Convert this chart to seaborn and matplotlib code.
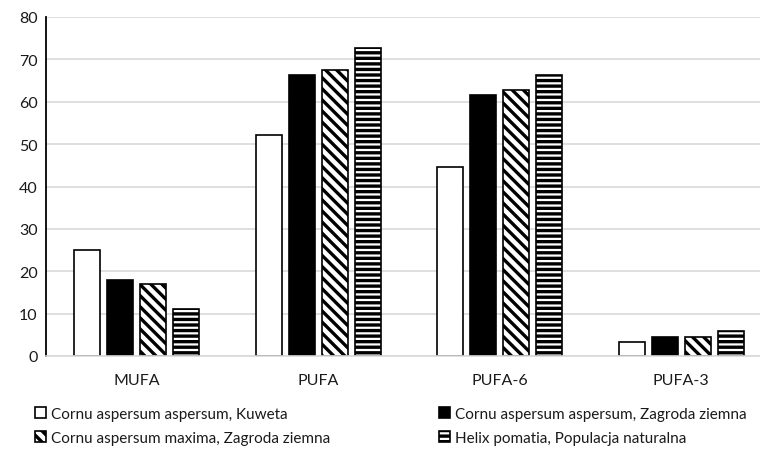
import matplotlib
matplotlib.use("Agg")
import matplotlib.pyplot as plt
import seaborn as sns
import pandas as pd

# Fatty acid groups and the four snail populations
categories = ["MUFA", "PUFA", "PUFA-6", "PUFA-3"]
series_names = [
    "Cornu aspersum aspersum, Kuweta",
    "Cornu aspersum aspersum, Zagroda ziemna",
    "Cornu aspersum maxima, Zagroda ziemna",
    "Helix pomatia, Populacja naturalna",
]
kuweta = [25.1, 52.1, 44.5, 3.2]
zagroda = [18.0, 66.3, 61.6, 4.6]
maxima = [17.1, 67.5, 62.7, 4.4]
helix = [11.1, 72.6, 66.2, 5.9]
y_ticks = [0, 10, 20, 30, 40, 50, 60, 70, 80]

values = [kuweta, zagroda, maxima, helix]
df = pd.DataFrame(
    [(c, s, v) for s, vals in zip(series_names, values) for c, v in zip(categories, vals)],
    columns=["grupa", "populacja", "wartosc"],
)

sns.set_theme(style="white")
plt.rcParams["font.family"] = ["Lato", "DejaVu Sans"]
plt.rcParams["hatch.linewidth"] = 2.4

fig = plt.figure(figsize=(7.6, 4.52), dpi=100)
ax = fig.add_axes([46 / 760, 95 / 452, 726 / 760, 339 / 452])

fills = ["white", "black", "white", "white"]
hatches = [None, None, "\\\\\\", "---"]

sns.barplot(
    data=df, x="grupa", y="wartosc", hue="populacja",
    order=categories, hue_order=series_names,
    palette=fills, saturation=1, width=0.727, gap=0.2,
    edgecolor="black", linewidth=1.2, legend=True, ax=ax,
)

for cont, h in zip(ax.containers, hatches):
    for bar in cont:
        bar.set_hatch(h)
        bar.set_edgecolor("black")

ax.set_ylim(0, 80)
ax.set_xlim(-0.5, 3.5)
ax.set_yticks(y_ticks)
ax.set_xlabel("")
ax.set_ylabel("")
ax.yaxis.grid(True, color="#d9d9d9", linewidth=1.2)
ax.set_axisbelow(True)
for s in ["top", "right"]:
    ax.spines[s].set_visible(False)
ax.spines["left"].set_color("black")
ax.spines["left"].set_linewidth(1.3)
ax.spines["bottom"].set_color("#d9d9d9")
ax.spines["bottom"].set_linewidth(1.2)
ax.tick_params(axis="both", length=0, labelsize=11.5, colors="#1a1a1a")
ax.tick_params(axis="x", pad=12)
ax.tick_params(axis="y", pad=6)

handles, labels = ax.get_legend_handles_labels()
ax.get_legend().remove()
for h, hat in zip(handles, hatches):
    h.set_hatch(hat)
    h.set_edgecolor("black")

common = dict(frameon=False, fontsize=11, handlelength=0.75, handleheight=0.75,
              handletextpad=0.3, labelspacing=0.65, borderaxespad=0, borderpad=0,
              labelcolor="#1a1a1a")
fig.legend([handles[0], handles[2]], [labels[0], labels[2]],
           loc="upper left", bbox_to_anchor=(35 / 760, 1 - 408 / 452), **common)
fig.legend([handles[1], handles[3]], [labels[1], labels[3]],
           loc="upper left", bbox_to_anchor=(439 / 760, 1 - 408 / 452), **common)

fig.savefig("out.png", dpi=100)
